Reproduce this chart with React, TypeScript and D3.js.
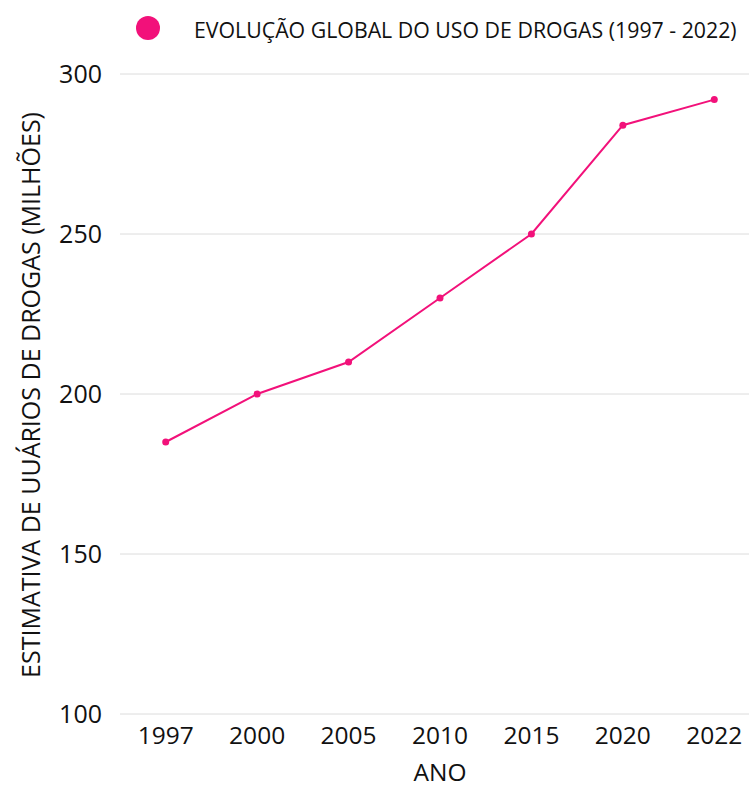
import React from "react";
import * as d3 from "d3";

const years = ["1997", "2000", "2005", "2010", "2015", "2020", "2022"];
const users = [185, 200, 210, 230, 250, 284, 292];
const yTicks = [100, 150, 200, 250, 300];
const legendLabel = "EVOLUÇÃO GLOBAL DO USO DE DROGAS (1997 - 2022)";
const xTitle = "ANO";
const yTitle = "ESTIMATIVA DE UUÁRIOS DE DROGAS (MILHÕES)";

const W = 749;
const H = 787;
const color = "#f2117a";
const font = "'Open Sans', sans-serif";

export default function App() {
  const left = 120;
  const x = d3.scaleBand<string>().domain(years).range([left, 760]);
  const y = d3.scaleLinear().domain([100, 300]).range([714, 74]);
  const cx = (d: string) => (x(d) as number) + x.bandwidth() / 2;
  const line = d3
    .line<number>()
    .x((_, i) => cx(years[i]))
    .y((d) => y(d));

  return (
    <svg
      width={W}
      height={H}
      style={{ position: "absolute", left: 0, top: 0, fontFamily: font }}
    >
      <rect width={W} height={H} fill="#fff" />
      {yTicks.map((t) => (
        <g key={t}>
          <line x1={left} x2={W} y1={y(t)} y2={y(t)} stroke="#dcdcdc" strokeWidth={1} />
          <text x={102} y={y(t)} dy="0.36em" textAnchor="end" fontSize={25} fill="#111">
            {t}
          </text>
        </g>
      ))}
      {years.map((yr) => (
        <text key={yr} x={cx(yr)} y={744} textAnchor="middle" fontSize={24.5} fill="#111">
          {yr}
        </text>
      ))}
      <text x={440} y={781} textAnchor="middle" fontSize={24.5} fill="#111">
        {xTitle}
      </text>
      <text
        transform={`translate(40, 395) rotate(-90)`}
        textAnchor="middle"
        fontSize={25}
        fill="#111"
      >
        {yTitle}
      </text>
      <path d={line(users) || ""} fill="none" stroke={color} strokeWidth={2} />
      {users.map((v, i) => (
        <circle key={i} cx={cx(years[i])} cy={y(v)} r={3.5} fill={color} />
      ))}
      <circle cx={148} cy={28} r={12} fill={color} />
      <text x={194} y={38} fontSize={21.3} fill="#111">
        {legendLabel}
      </text>
    </svg>
  );
}
